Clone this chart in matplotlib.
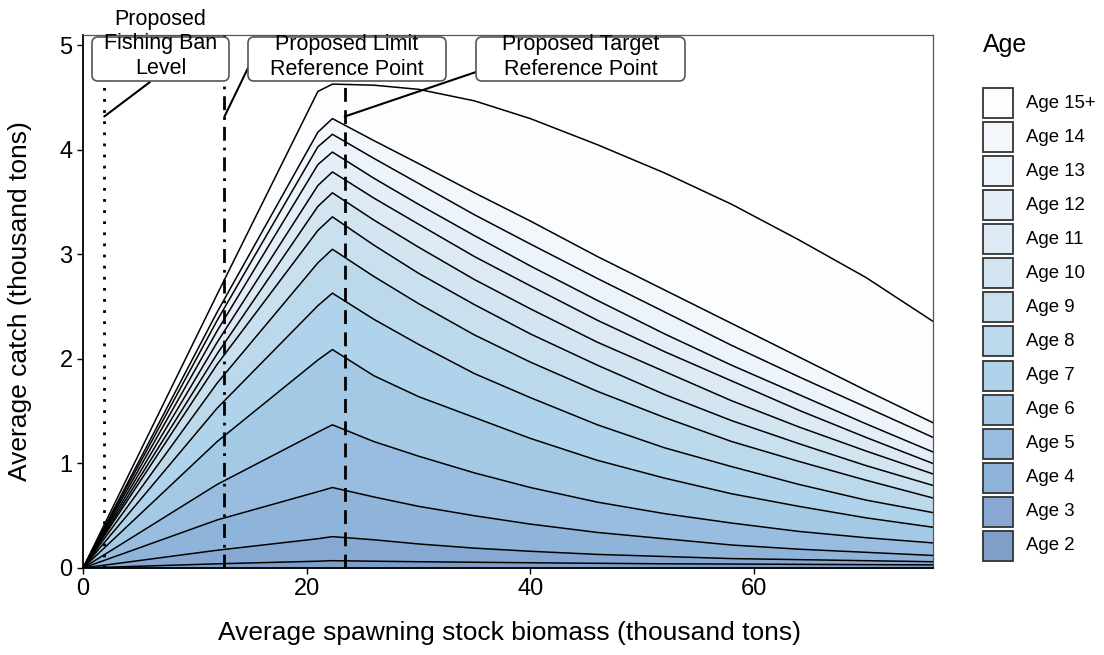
import matplotlib.pyplot as plt
from matplotlib.patches import FancyBboxPatch, Rectangle

plt.rcParams['font.family'] = ['Liberation Sans', 'DejaVu Sans']

W, H = 1104, 655

# average spawning stock biomass (thousand tons)
biomass = [0, 12, 21, 22.3, 26, 30, 35, 40, 46, 52, 58, 64, 70, 76]

# cumulative catch (thousand tons): top edge of each age band
top_age2 = [0, 0.04, 0.065, 0.07, 0.065, 0.06, 0.055, 0.05, 0.045, 0.04, 0.038, 0.035, 0.032, 0.03]
top_age3 = [0, 0.17, 0.28, 0.30, 0.27, 0.23, 0.19, 0.16, 0.13, 0.11, 0.09, 0.08, 0.07, 0.06]
top_age4 = [0, 0.46, 0.73, 0.77, 0.68, 0.59, 0.50, 0.42, 0.34, 0.28, 0.22, 0.18, 0.15, 0.12]
top_age5 = [0, 0.80, 1.30, 1.37, 1.21, 1.07, 0.91, 0.77, 0.63, 0.52, 0.43, 0.35, 0.29, 0.24]
top_age6 = [0, 1.21, 1.99, 2.09, 1.84, 1.64, 1.44, 1.24, 1.03, 0.86, 0.71, 0.59, 0.48, 0.39]
top_age7 = [0, 1.53, 2.51, 2.63, 2.38, 2.14, 1.86, 1.63, 1.37, 1.15, 0.97, 0.80, 0.65, 0.53]
top_age8 = [0, 1.77, 2.92, 3.05, 2.79, 2.53, 2.23, 1.97, 1.69, 1.44, 1.21, 1.02, 0.84, 0.67]
top_age9 = [0, 1.95, 3.23, 3.36, 3.09, 2.82, 2.52, 2.24, 1.94, 1.66, 1.41, 1.19, 0.98, 0.79]
top_age10 = [0, 2.05, 3.46, 3.59, 3.33, 3.07, 2.76, 2.48, 2.16, 1.88, 1.60, 1.35, 1.12, 0.90]
top_age11 = [0, 2.16, 3.66, 3.79, 3.54, 3.29, 2.98, 2.70, 2.37, 2.07, 1.79, 1.51, 1.25, 1.00]
top_age12 = [0, 2.27, 3.86, 3.98, 3.73, 3.48, 3.18, 2.89, 2.56, 2.24, 1.94, 1.66, 1.38, 1.11]
top_age13 = [0, 2.37, 4.03, 4.15, 3.92, 3.68, 3.38, 3.10, 2.77, 2.45, 2.13, 1.83, 1.54, 1.25]
top_age14 = [0, 2.45, 4.17, 4.30, 4.09, 3.87, 3.59, 3.32, 2.98, 2.66, 2.34, 2.02, 1.70, 1.39]
top_age15 = [0, 2.62, 4.56, 4.63, 4.62, 4.58, 4.47, 4.30, 4.05, 3.78, 3.48, 3.14, 2.78, 2.36]

age_labels = ["Age 2", "Age 3", "Age 4", "Age 5", "Age 6", "Age 7", "Age 8",
              "Age 9", "Age 10", "Age 11", "Age 12", "Age 13", "Age 14", "Age 15+"]

# reference points (thousand tons SSB)
ban_level = 1.9
limit_ref = 12.65
target_ref = 23.4
leader_y = 4.32

band_colors = ["#7f9fc8", "#86a8d2", "#8fb4da", "#98bde0", "#a3c9e5", "#afd3ea", "#bcd9ec",
               "#c9e0ee", "#d3e5f1", "#dde9f4", "#e5eef8", "#edf3fa", "#f3f7fc", "#fbfdff"]

tops = [top_age2, top_age3, top_age4, top_age5, top_age6, top_age7, top_age8,
        top_age9, top_age10, top_age11, top_age12, top_age13, top_age14, top_age15]

fig = plt.figure(figsize=(W / 100, H / 100), dpi=100)
ax = fig.add_axes([83 / W, 1 - 568 / H, (933 - 83) / W, (568 - 35) / H])

lower = [0] * len(biomass)
for top, col in zip(tops, band_colors):
    ax.fill_between(biomass, lower, top, facecolor=col, edgecolor=col, lw=0.5, zorder=1)
    lower = top
for top in tops:
    ax.plot(biomass, top, color='black', lw=1.1, zorder=2, solid_joinstyle='round')

ax.axvline(ban_level, color='black', lw=2, ls=(0, (1, 3)), zorder=3)
ax.axvline(limit_ref, color='black', lw=2, ls=(0, (5, 2.5, 1, 2.5)), zorder=3)
ax.axvline(target_ref, color='black', lw=2, ls=(0, (5, 3)), zorder=3)

ax.set_xlim(0, 76)
ax.set_ylim(0, 5.1)
ax.set_xticks([0, 20, 40, 60])
ax.set_yticks([0, 1, 2, 3, 4, 5])
ax.tick_params(labelsize=17, length=4.5, width=1, direction='out', pad=3, colors='black')
for s in ['left', 'bottom']:
    ax.spines[s].set_color('black')
    ax.spines[s].set_linewidth(1.3)
for s in ['top', 'right']:
    ax.spines[s].set_color('#555555')
    ax.spines[s].set_linewidth(0.9)

ax.set_xlabel("Average spawning stock biomass (thousand tons)", fontsize=19)
ax.set_ylabel("Average catch (thousand tons)", fontsize=19)
ax.xaxis.set_label_coords(0.502, -0.1)
ax.yaxis.set_label_coords(-0.06, 0.5)

# leader lines from labels to reference lines
leaders = [(ban_level, 150, 82), (limit_ref, 248, 68), (target_ref, 476, 72)]
for xv, px, py in leaders:
    ax.annotate('', xy=(xv, leader_y), xycoords='data', xytext=(px, H - py),
                textcoords='figure pixels', annotation_clip=False,
                arrowprops=dict(arrowstyle='-', color='black', lw=1.5, shrinkA=0, shrinkB=0))

# label boxes
boxes = [(92, 229, "Proposed\nFishing Ban\nLevel", 44),
         (248, 446, "Proposed Limit\nReference Point", 57),
         (476, 685, "Proposed Target\nReference Point", 57)]
for x0, x1, txt, cy in boxes:
    patch = FancyBboxPatch((x0 / 100, (H - 81) / 100), (x1 - x0) / 100, 44 / 100,
                           boxstyle="round,pad=0,rounding_size=0.06",
                           fc='white', ec='#555555', lw=1.2,
                           transform=fig.dpi_scale_trans, zorder=5)
    fig.add_artist(patch)
    fig.text((x0 + x1) / 2 / W, 1 - cy / H, txt, ha='center', va='center',
             fontsize=15.5, linespacing=1.2, zorder=6)

# legend
fig.text(983 / W, 1 - 45 / H, "Age", fontsize=18, ha='left', va='center')
for i, (lab, col) in enumerate(zip(age_labels[::-1], band_colors[::-1])):
    ytop = 88 + i * 34.07
    fig.add_artist(Rectangle((983 / W, 1 - (ytop + 30) / H), 30 / W, 30 / H,
                             facecolor=col, edgecolor='#333333', lw=1.3,
                             transform=fig.transFigure))
    fig.text(1026 / W, 1 - (ytop + 15) / H, lab, fontsize=13.4, ha='left', va='center')

fig.savefig("out.png", dpi=100)
